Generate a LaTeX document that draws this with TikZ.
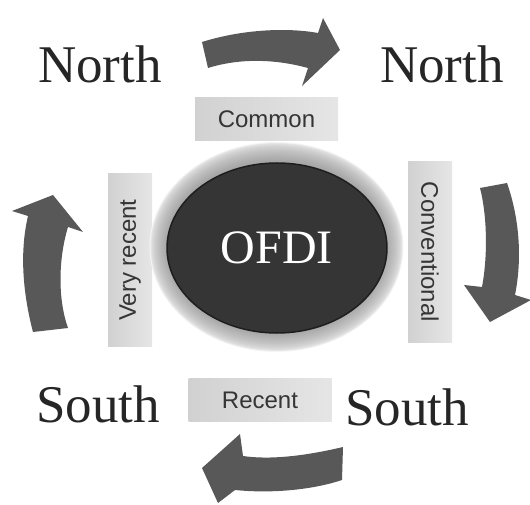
\documentclass[tikz,border=0pt]{standalone}
\usepackage{fontspec}
\usetikzlibrary{shapes.geometric}
\setmainfont{Liberation Serif}
\setsansfont{Liberation Sans}
\definecolor{arrowgray}{HTML}{585858}
\definecolor{boxtext}{HTML}{353535}
\definecolor{coregray}{HTML}{353535}
\definecolor{coreedge}{HTML}{1E1E1E}
\tikzset{
  place/.style={font=\fontsize{53}{60}\selectfont, text=black!85, anchor=base, inner sep=0pt},
  labelbox/.style={font=\sffamily\fontsize{24}{28}\selectfont, text=boxtext, left color=gray!36, right color=gray!20, draw=none, inner sep=0pt, minimum width=143pt, minimum height=43pt},
  turnarrow/.style={fill=arrowgray, draw=none}
}
\begin{document}
\begin{tikzpicture}[x=1pt,y=-1pt]
\useasboundingbox (0,0) rectangle (530,505);
% place names
\node[place] (nw) at (100,83) {North};
\node[place] (ne) at (442,83) {North};
\node[place] (sw) at (98,422) {South};
\node[place] (se) at (407,425) {South};
% boxes
\node[labelbox] (common) at (266.5,119) {Common};
\node[labelbox] (recent) at (260,400) {Recent};
\node[labelbox, rotate=90, minimum width=172pt, minimum height=44pt] (veryrecent) at (130,260) {Very recent};
\node[labelbox, rotate=-90, minimum width=180pt, minimum height=44pt] (conventional) at (430,252) {Conventional};
% halo: soft concentric rings
\foreach \k in {0,...,18}{
  \pgfmathsetmacro{\rx}{127-\k}
  \pgfmathsetmacro{\ry}{105-\k*1.05}
  \pgfmathsetmacro{\c}{8+62*(\k/18)^0.55}
  \fill[gray!\c] (276.5,247) ellipse [x radius=\rx, y radius=\ry];
}
\node[ellipse, minimum width=220pt, minimum height=170pt, fill=coregray, draw=coreedge, line width=1.5pt, inner sep=0pt,
      font=\fontsize{48}{52}\selectfont, text=white] (ofdi) at (277,248) {OFDI};
% top arrow (right)
\fill[turnarrow] (202,42) .. controls (240,30) and (285,27) .. (318,33)
  -- (323,18) -- (340,50) -- (302,86) -- (308,68)
  .. controls (275,59) and (240,58) .. (208,68) -- cycle;
% right arrow (down)
\fill[turnarrow] (480,188) -- (507,183) .. controls (520,220) and (522,260) .. (515,295)
  -- (531,300) -- (490,322) -- (464,285) -- (482,287)
  .. controls (488,255) and (487,215) .. cycle;
% bottom arrow (left)
\fill[turnarrow] (343,447) .. controls (305,456) and (270,460) .. (243,456)
  -- (240,434) -- (202,468) -- (218,503) -- (235,490)
  .. controls (275,494) and (315,489) .. (342,480) -- cycle;
% left arrow (up)
\fill[turnarrow] (33,332) .. controls (22,290) and (20,250) .. (28,216)
  -- (12,211) -- (53,195) -- (83,232) -- (68,227)
  .. controls (58,260) and (58,300) .. (68,328) -- cycle;
\end{tikzpicture}
\end{document}
